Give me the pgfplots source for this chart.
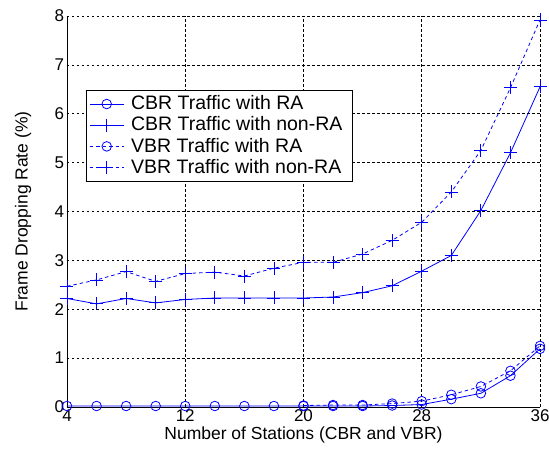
\documentclass[border=0pt]{standalone}
\usepackage{pgfplots}
\pgfplotsset{compat=1.18}
\usepackage{fontspec}
\setmainfont{Liberation Sans}
\begin{document}
\fontsize{17}{19}\selectfont
\begin{tikzpicture}
\begin{axis}[
  name=ax,
  scale only axis,
  width=473pt, height=391pt,
  xmin=4, xmax=36, ymin=0, ymax=8,
  xtick={4,12,20,28,36}, ytick={0,1,...,8},
  axis x line*=bottom, axis y line*=left,
  axis line style={black, line width=0.8pt, -},
  tick style={draw=none},
  grid=major,
  major grid style={black, dash pattern=on 2.5pt off 2.5pt, line width=0.7pt},
  xlabel={Number of Stations (CBR and VBR)},
  ylabel={Frame Dropping Rate (\%)},
  xticklabel style={yshift=3pt},
  yticklabel style={xshift=3pt},
  xlabel style={yshift=7pt},
  ylabel style={yshift=12pt},
  /pgf/number format/assume math mode=true,
  ticklabel style={font=\fontsize{17}{19}\selectfont},
  label style={font=\fontsize{17.5}{20}\selectfont},
  legend style={at={(0.04,0.81)}, anchor=north west, draw=black, line width=0.8pt,
    font=\fontsize{19.5}{21}\selectfont, row sep=0.5pt, inner sep=3pt, legend cell align=left,
    nodes={inner xsep=7pt, inner ysep=2pt}},
  legend image code/.code={%
    \draw[mark repeat=2, mark phase=2, #1] plot coordinates {(0pt,0pt) (17pt,0pt) (34pt,0pt)};},
  every axis plot/.append style={blue, line width=0.8pt},
]
\addplot[mark=o, mark size=4.8pt, mark options={solid}] coordinates {
(4,0.02)(6,0.02)(8,0.02)(10,0.02)(12,0.02)(14,0.02)(16,0.02)(18,0.02)(20,0.02)(22,0.02)(24,0.02)(26,0.03)(28,0.05)(30,0.16)(32,0.28)(34,0.64)(36,1.19)};
\addlegendentry{CBR Traffic with RA}
\addplot[mark=+, mark size=6.5pt, mark options={solid}] coordinates {
(4,2.22)(6,2.11)(8,2.22)(10,2.13)(12,2.2)(14,2.23)(16,2.23)(18,2.23)(20,2.23)(22,2.25)(24,2.34)(26,2.48)(28,2.78)(30,3.1)(32,4.02)(34,5.2)(36,6.55)};
\addlegendentry{CBR Traffic with non-RA}
\addplot[dash pattern=on 3.5pt off 3pt, mark=o, mark size=4.8pt, mark options={solid}] coordinates {
(20,0.03)(22,0.04)(24,0.04)(26,0.07)(28,0.12)(30,0.25)(32,0.42)(34,0.74)(36,1.25)};
\addlegendentry{VBR Traffic with RA}
\addplot[dash pattern=on 3.5pt off 3pt, mark=+, mark size=6.5pt, mark options={solid}] coordinates {
(4,2.47)(6,2.6)(8,2.77)(10,2.57)(12,2.73)(14,2.76)(16,2.68)(18,2.84)(20,2.96)(22,2.96)(24,3.13)(26,3.41)(28,3.78)(30,4.4)(32,5.25)(34,6.53)(36,7.92)};
\addlegendentry{VBR Traffic with non-RA}
\end{axis}
\pgfresetboundingbox
\path ([xshift=-67pt,yshift=-48pt]ax.south west) rectangle ([xshift=9pt,yshift=16pt]ax.north east);
\end{tikzpicture}
\end{document}
